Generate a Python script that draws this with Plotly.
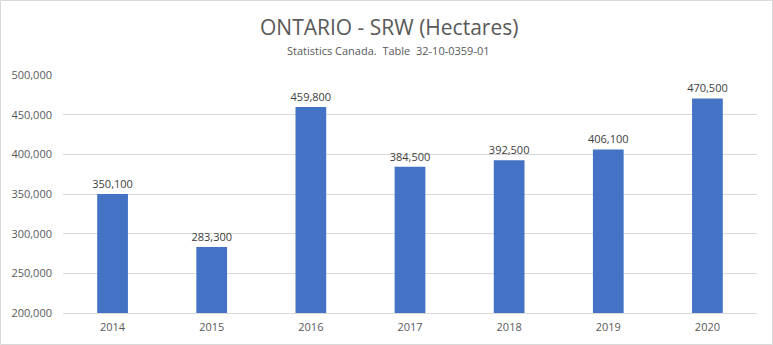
import plotly.graph_objects as go

years = ["2014", "2015", "2016", "2017", "2018", "2019", "2020"]
hectares = [350100, 283300, 459800, 384500, 392500, 406100, 470500]
y_ticks = [200000, 250000, 300000, 350000, 400000, 450000, 500000]

W, H = 773, 345
L, R, T, B = 63, 16, 75, 32
pw, ph = W - L - R, H - T - B

fig = go.Figure(go.Bar(
    x=years, y=hectares, width=0.31,
    marker=dict(color="#4472C4", line=dict(width=0)),
    text=[f"{v:,}" for v in hectares], textposition="outside",
    textfont=dict(size=11, color="#404040", family="Open Sans"),
    constraintext="none",
    cliponaxis=False,
))

fig.update_layout(
    width=W, height=H, margin=dict(l=L, r=R, t=T, b=B),
    paper_bgcolor="white", plot_bgcolor="white",
    font=dict(family="Open Sans", color="#595959", size=11),
    showlegend=False,
    yaxis=dict(range=[200000, 500000], tickvals=y_ticks,
               ticktext=[f"{v:,}" for v in y_ticks],
               gridcolor="#D9D9D9", gridwidth=1, zeroline=False,
               showline=False, ticks="", ticklen=0, ticklabelstandoff=10,
               tickfont=dict(size=11, color="#595959")),
    xaxis=dict(showgrid=False, showline=True, linecolor="#D9D9D9",
               linewidth=1, ticks="", ticklabelstandoff=4,
               tickfont=dict(size=11, color="#595959")),
    bargap=0.69,
)
fig.add_annotation(text="ONTARIO - SRW (Hectares)", xref="paper", yref="paper",
                   x=0.5 + (389 - (L + pw / 2)) / pw, y=(H - B - 27) / ph,
                   showarrow=False, font=dict(size=21, color="#595959"),
                   xanchor="center", yanchor="middle")
fig.add_annotation(text="Statistics Canada.  Table  32-10-0359-01", xref="paper", yref="paper",
                   x=0.5 + (388 - (L + pw / 2)) / pw, y=(H - B - 51) / ph,
                   showarrow=False, font=dict(size=11, color="#595959"),
                   xanchor="center", yanchor="middle")
fig.add_shape(type="rect", xref="paper", yref="paper",
              x0=(0.5 - L) / pw, x1=(W - 0.5 - L) / pw,
              y0=(H - B - (H - 0.5)) / ph, y1=(H - B - 0.5) / ph,
              line=dict(color="#D9D9D9", width=1), fillcolor="rgba(0,0,0,0)")

fig.write_html("out.html")
